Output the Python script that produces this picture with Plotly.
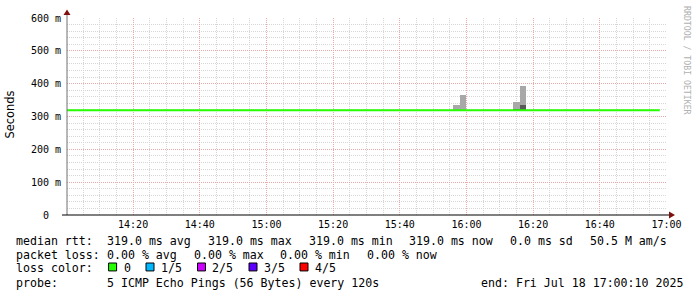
import plotly.graph_objects as go
import pandas as pd

# ---------------- data ----------------
range_start = "2025-07-18 14:00:10"
range_end = "2025-07-18 17:00:10"

rtt_times = list(pd.date_range("2025-07-18 14:00:00", "2025-07-18 16:58:00", freq="2min"))
rtt_median = [0.319] * len(rtt_times)          # seconds, constant 319.0 ms

smoke_times = ["2025-07-18 15:57:00", "2025-07-18 15:59:00",
               "2025-07-18 16:15:00", "2025-07-18 16:17:00"]
smoke_low = [0.317, 0.317, 0.317, 0.317]
smoke_high = [0.335, 0.365, 0.344, 0.392]
dark_low = [0.317, 0.317, 0.317, 0.317]
dark_high = [0.317, 0.317, 0.321, 0.336]

x_tickvals = ["2025-07-18 14:20", "2025-07-18 14:40", "2025-07-18 15:00", "2025-07-18 15:20",
              "2025-07-18 15:40", "2025-07-18 16:00", "2025-07-18 16:20", "2025-07-18 16:40",
              "2025-07-18 17:00"]
x_ticktext = ["14:20", "14:40", "15:00", "15:20", "15:40", "16:00", "16:20", "16:40", "17:00"]
y_tickvals = [0, 0.1, 0.2, 0.3, 0.4, 0.5, 0.6]
y_ticktext = ["0", "100 m", "200 m", "300 m", "400 m", "500 m", "600 m"]

loss_labels = ["0", "1/5", "2/5", "3/5", "4/5"]
loss_colors = ["#26ff00", "#00b8ff", "#cc00ff", "#5e00ff", "#ff0000"]

rtt_label = "median rtt:"
rtt_items = ["319.0 ms avg", "319.0 ms max", "319.0 ms min", "319.0 ms now", "0.0 ms sd", "50.5 M am/s"]
loss_label = "packet loss:"
loss_items = ["0.00 % avg", "0.00 % max", "0.00 % min", "0.00 % now"]
color_label = "loss color:"
probe_label = "probe:"
probe_text = "5 ICMP Echo Pings (56 Bytes) every 120s"
end_text = "end: Fri Jul 18 17:00:10 2025"

# ---------------- layout geometry ----------------
W, H = 697, 297
L, R, T, B = 67, 30, 16, 82
PW = W - L - R
PH = H - T - B


def px(x):
    return (x - L) / PW


def py(y):
    return (T + PH - y) / PH


def nb(s):
    return s.replace(" ", "\u00a0")


MONO = "DejaVu Sans Mono"
TXT = 11.6

fig = go.Figure()

fig.add_trace(go.Bar(x=smoke_times, y=[h - l for h, l in zip(smoke_high, smoke_low)], base=smoke_low,
                     width=120000, marker=dict(color="#a8a8a8", line=dict(width=0)),
                     showlegend=False, hoverinfo="skip"))
fig.add_trace(go.Bar(x=smoke_times, y=[h - l for h, l in zip(dark_high, dark_low)], base=dark_low,
                     width=120000, marker=dict(color="#5a5a5a", line=dict(width=0)),
                     showlegend=False, hoverinfo="skip"))
fig.add_trace(go.Scatter(x=rtt_times, y=rtt_median, mode="lines",
                         line=dict(color=loss_colors[0], width=2, shape="hv"),
                         showlegend=False, hoverinfo="skip"))

grid_minor = "#d6d6d6"
grid_major = "#eaa8a8"

fig.update_layout(
    width=W, height=H,
    margin=dict(l=L, r=R, t=T, b=B, pad=0),
    paper_bgcolor="white", plot_bgcolor="white",
    barmode="overlay", bargap=0,
    showlegend=False,
    font=dict(family=MONO, size=10, color="#000000"),
    xaxis=dict(type="date", range=[range_start, range_end],
               tickmode="array", tickvals=x_tickvals, ticktext=x_ticktext,
               showgrid=True, gridcolor=grid_major, griddash="1px,1px", gridwidth=1,
               minor=dict(dtick=300000, tick0="2025-07-18 14:00", showgrid=True,
                          gridcolor=grid_minor, griddash="1px,1px", gridwidth=1),
               ticks="", ticklabelstandoff=2, showline=False, zeroline=False,
               tickfont=dict(family=MONO, size=10, color="#000")),
    yaxis=dict(range=[0, 0.6], tickmode="array", tickvals=y_tickvals,
               ticktext=[nb(t.center(5)) for t in y_ticktext],
               showgrid=True, gridcolor=grid_major, griddash="1px,1px", gridwidth=1,
               minor=dict(dtick=0.02, showgrid=True, gridcolor=grid_minor,
                          griddash="1px,1px", gridwidth=1),
               ticks="", ticklabelstandoff=5, showline=False, zeroline=False,
               tickfont=dict(family=MONO, size=10, color="#000")),
)

shapes = []
# axes
shapes.append(dict(type="line", xref="paper", yref="paper", x0=px(67), x1=px(67),
                   y0=py(12), y1=py(215), line=dict(color="#707070", width=1)))
shapes.append(dict(type="line", xref="paper", yref="paper", x0=px(62), x1=px(670),
                   y0=py(215), y1=py(215), line=dict(color="#000000", width=1)))
# arrows
shapes.append(dict(type="path", xref="paper", yref="paper",
                   path=f"M {px(67)} {py(7.5)} L {px(70.5)} {py(13)} L {px(63.5)} {py(13)} Z",
                   fillcolor="#7f1010", line=dict(width=0)))
shapes.append(dict(type="path", xref="paper", yref="paper",
                   path=f"M {px(675)} {py(215)} L {px(669)} {py(211.5)} L {px(669)} {py(218.5)} Z",
                   fillcolor="#7f1010", line=dict(width=0)))

annotations = []
annotations.append(dict(text="Seconds", xref="paper", yref="paper", x=px(10.5), y=py(114),
                        textangle=-90, showarrow=False, xanchor="center", yanchor="middle",
                        font=dict(family="DejaVu Sans", size=11.4, color="#000")))
annotations.append(dict(text=nb("RRDTOOL / TOBI OETIKER"), xref="paper", yref="paper",
                        x=px(687.5), y=py(59), textangle=90, showarrow=False,
                        xanchor="center", yanchor="middle",
                        font=dict(family=MONO, size=8.2, color="#b0b0b0")))


def text_at(s, x, y):
    annotations.append(dict(text=nb(s), xref="paper", yref="paper", x=px(x), y=py(y),
                            showarrow=False, xanchor="left", yanchor="middle",
                            borderpad=0, borderwidth=0,
                            font=dict(family=MONO, size=TXT, color="#000")))


y1, y2, y3, y4 = 241, 255, 269, 283.5
text_at(rtt_label, 15.8, y1)
for s, x in zip(rtt_items, [107.4, 208.0, 308.5, 409.0, 509.6, 590.0]):
    text_at(s, x, y1)
text_at(loss_label, 15.8, y2)
for s, x in zip(loss_items, [107.4, 193.7, 279.9, 366.6]):
    text_at(s, x, y2)
text_at(color_label, 15.8, y3)
sq_x = [108.6, 146.0, 197.5, 249.0, 300.0]
lab_x = [123.5, 161.0, 212.3, 263.8, 314.8]
for lab, col, sx, lx in zip(loss_labels, loss_colors, sq_x, lab_x):
    shapes.append(dict(type="rect", xref="paper", yref="paper",
                       x0=px(sx), x1=px(sx + 8), y0=py(263.5), y1=py(271.5),
                       fillcolor=col, line=dict(color="#000", width=1)))
    text_at(lab, lx, y3)
text_at(probe_label, 15.8, y4)
text_at(probe_text, 107.4, y4)
text_at(end_text, 480.5, y4)

fig.update_layout(shapes=shapes, annotations=annotations)

fig.write_html("out.html")
